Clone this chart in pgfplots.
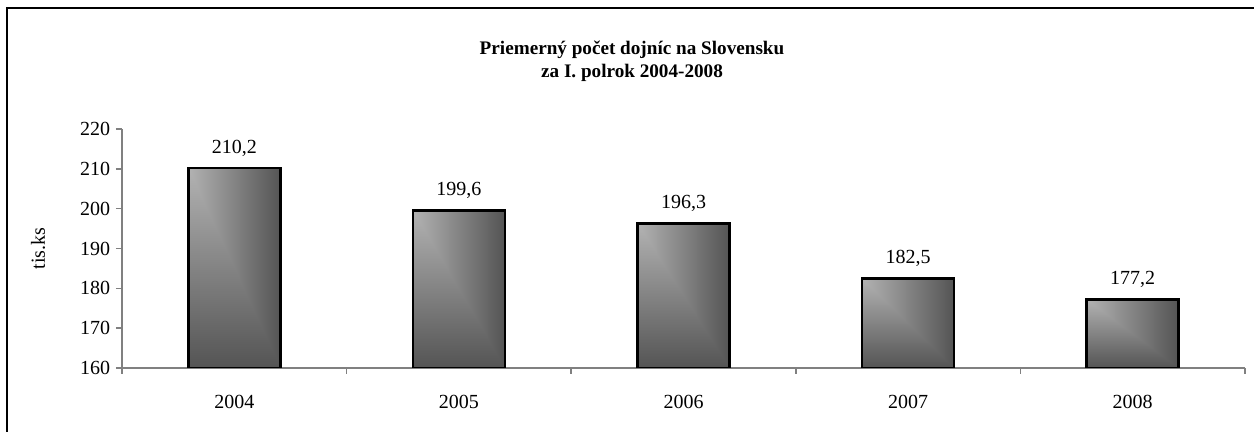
\documentclass[border=0pt]{standalone}
\usepackage{pgfplots}
\pgfplotsset{compat=1.18}
\usepackage{fontspec}
\setmainfont{Liberation Serif}
\pgfdeclarefunctionalshading{corner}{\pgfpoint{0bp}{0bp}}{\pgfpoint{100bp}{100bp}}{}{
 75 exch sub exch 25 sub 2 copy lt {exch} if pop 50 div 0.37 mul 0.70 exch sub dup 0.33 lt {pop 0.33} if dup dup
}
\begin{document}
\begin{tikzpicture}[font=\fontsize{12}{14}\selectfont]
\clip (0,0) rectangle (752.4pt,259.2pt);
\path[use as bounding box] (0,0) rectangle (752.4pt,259.2pt);
\draw[line width=1.2pt] (4.2pt,-5pt) -- (4.2pt,254.4pt) -- (760pt,254.4pt);
\node[align=center, font=\fontsize{11.5}{13.8}\selectfont\bfseries] at (379.2pt,222.3pt) {Priemerný počet dojníc na Slovensku\\za I. polrok 2004-2008};
\begin{axis}[at={(73.2pt,38.4pt)}, anchor=south west, scale only axis,
 width=673.8pt, height=143.4pt,
 xmin=-0.5, xmax=4.5, ymin=160, ymax=220, ytick={160,170,...,220},
 axis x line=bottom, axis y line=left,
 axis line style={black!50, line width=0.9pt, -},
 tick style={black!50, line width=0.9pt}, tick align=outside, major tick length=3.6pt,
 xtick={-0.5,0.5,...,4.5}, x tick label as interval,
 xticklabels={2004,2005,2006,2007,2008},
 xticklabel style={yshift=-9pt},
 /pgf/number format/assume math mode=true,
 ylabel={tis.ks}, ylabel style={at={(axis description cs:-0.0748,0.5)}, anchor=center},
 barstyle/.style={ybar, bar shift=0pt, bar width=55.2pt, draw=black, line width=1.5pt,
   shade, shading=corner,
   nodes near coords={\pgfmathprintnumber[use comma,fixed,fixed zerofill,precision=1,assume math mode=true]{\pgfplotspointmeta}},
   nodes near coords style={anchor=base, inner sep=0pt, yshift=9pt, text=black}},
]
\addplot[barstyle] coordinates {(0,210.2)};
\addplot[barstyle] coordinates {(1,199.6)};
\addplot[barstyle] coordinates {(2,196.3)};
\addplot[barstyle] coordinates {(3,182.5)};
\addplot[barstyle] coordinates {(4,177.2)};
\end{axis}
\end{tikzpicture}
\end{document}
